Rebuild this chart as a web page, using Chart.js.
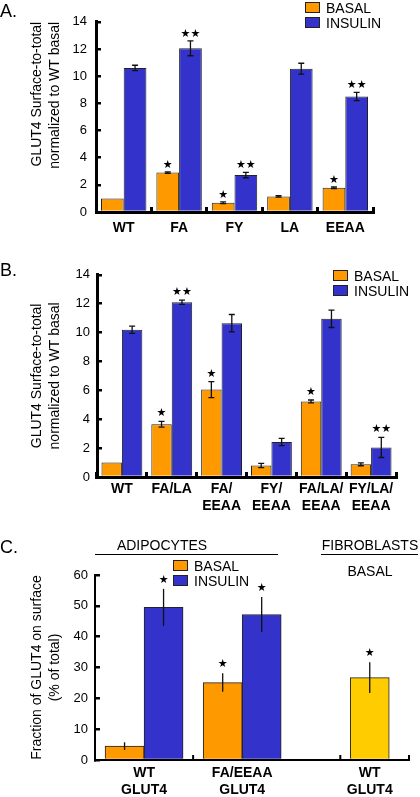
<!DOCTYPE html>
<html><head><meta charset="utf-8">
<script src="https://cdn.jsdelivr.net/npm/chart.js@4.4.0/dist/chart.umd.min.js"></script>
<style>
html,body{margin:0;padding:0;background:#fff;width:420px;height:797px;overflow:hidden;font-family:"Liberation Sans",Arial,sans-serif;color:#000;}
canvas{position:absolute;left:0;}
.txt{position:absolute;white-space:nowrap;z-index:2;}
.plab{font-size:18px;line-height:18px;left:0;}
.hdr{font-size:14px;line-height:16px;text-align:center;}
.rule{position:absolute;height:0;border-top:1px solid #000;z-index:2;}
.legend{position:absolute;z-index:2;font-size:14px;}
.legend .item{display:flex;align-items:center;height:15px;}
.legend .box{display:inline-block;width:13px;height:9px;border:1px solid #222;margin-right:6px;}
</style></head>
<body>
<canvas id="cA" width="420" height="250" style="top:0"></canvas>
<canvas id="cB" width="420" height="275" style="top:255px"></canvas>
<canvas id="cC" width="420" height="267" style="top:530px"></canvas>

<div class="txt plab" style="top:2px">A.</div>
<div class="txt plab" style="top:261px">B.</div>
<div class="txt plab" style="top:538px">C.</div>

<div class="txt hdr" style="left:62px;width:200px;top:537px">ADIPOCYTES</div>
<div class="rule" style="left:95px;width:183px;top:554px"></div>
<div class="txt hdr" style="left:320px;width:100px;top:537px">FIBROBLASTS</div>
<div class="rule" style="left:321px;width:97px;top:554px"></div>
<div class="txt hdr" style="left:320px;width:100px;top:563px">BASAL</div>

<div class="legend" id="legA" style="left:305px;top:0px"></div>
<div class="legend" id="legB" style="left:333px;top:268px"></div>
<div class="legend" id="legC" style="left:173px;top:558px"></div>

<script>
// ---------------- DATA ----------------
const seriesNames = ['BASAL', 'INSULIN'];

// Panel A
const aCategories = ['WT', 'FA', 'FY', 'LA', 'EEAA'];
const aBasal      = [1.0, 2.9, 0.68, 1.15, 1.78];
const aBasalErr   = [0, 0.06, 0.06, 0.06, 0.06];
const aBasalSig   = ['', '*', '*', '', '*'];
const aInsulin    = [10.6, 12.05, 2.72, 10.55, 8.5];
const aInsulinErr = [0.2, 0.55, 0.2, 0.4, 0.3];
const aInsulinSig = ['', '**', '**', '', '**'];

// Panel B
const bCategories = ['WT', 'FA/LA', ['FA/', 'EEAA'], ['FY/', 'EEAA'], ['FA/LA/', 'EEAA'], ['FY/LA/', 'EEAA']];
const bBasal      = [1.0, 3.65, 6.05, 0.8, 5.23, 0.88];
const bBasalErr   = [0, 0.2, 0.55, 0.15, 0.1, 0.1];
const bBasalSig   = ['', '*', '*', '', '*', ''];
const bInsulin    = [10.2, 12.1, 10.65, 2.42, 10.95, 2.05];
const bInsulinErr = [0.25, 0.15, 0.6, 0.25, 0.6, 0.7];
const bInsulinSig = ['', '**', '', '', '', '**'];

// Panel C
const cCategories = [['WT', 'GLUT4'], ['FA/EEAA', 'GLUT4'], ['WT', 'GLUT4']];
const cBasal      = [4.5, 25.1, 26.7];
const cBasalErr   = [1.25, 3.0, 5.0];
const cBasalSig   = ['', '*', '*'];
const cInsulin    = [49.5, 47.2, null];
const cInsulinErr = [6.0, 5.7, null];
const cInsulinSig = ['*', '*', ''];

// ---------------- STYLE ----------------
const FONT = '"Liberation Sans", Arial, sans-serif';
const COL = { basal: '#FF9900', insulin: '#3333CC', fibro: '#FFCC00', edge: '#222222' };

// legends (HTML)
function buildLegend(id) {
  const el = document.getElementById(id);
  [COL.basal, COL.insulin].forEach((c, i) => {
    const it = document.createElement('div');
    it.className = 'item';
    it.innerHTML = '<span class="box" style="background:' + c + '"></span>' + seriesNames[i];
    el.appendChild(it);
  });
}
['legA', 'legB', 'legC'].forEach(buildLegend);

// plugin: error bars + significance stars
const errorBars = {
  id: 'errorBars',
  afterDatasetsDraw(chart, args, opts) {
    const ctx = chart.ctx;
    const y = chart.scales.y;
    const cap = opts.cap || 0;
    ctx.save();
    ctx.strokeStyle = '#111';
    ctx.fillStyle = '#000';
    ctx.lineWidth = 1.3;
    ctx.font = '11px "DejaVu Sans"';
    ctx.textAlign = 'center';
    ctx.textBaseline = 'middle';
    chart.data.datasets.forEach((ds, di) => {
      const meta = chart.getDatasetMeta(di);
      meta.data.forEach((bar, i) => {
        const p = meta.controller.getParsed(i);
        if (!p || p.y === null || p.y === undefined || isNaN(p.y)) return;
        const e = (ds.errors && ds.errors[i]) || 0;
        const x = bar.x;
        const top = y.getPixelForValue(p.y + e);
        if (e) {
          const bot = y.getPixelForValue(p.y - e);
          ctx.beginPath();
          ctx.moveTo(x, top); ctx.lineTo(x, bot);
          if (cap) {
            ctx.moveTo(x - cap, top); ctx.lineTo(x + cap, top);
            ctx.moveTo(x - cap, bot); ctx.lineTo(x + cap, bot);
          }
          ctx.stroke();
        }
        const s = ds.marks && ds.marks[i];
        if (s) ctx.fillText('\u2605'.repeat(s.length), x, top - (opts.gap || 7));
      });
    });
    ctx.restore();
  }
};

// plugin: inward tick marks on x axis at given values (panel C)
const innerTicks = {
  id: 'innerTicks',
  afterDraw(chart, args, opts) {
    if (!opts.values) return;
    const ctx = chart.ctx, xs = chart.scales.x, b = chart.chartArea.bottom;
    ctx.save();
    ctx.strokeStyle = '#000';
    ctx.lineWidth = 2;
    opts.values.forEach(v => {
      const px = xs.getPixelForValue(v);
      ctx.beginPath(); ctx.moveTo(px, b); ctx.lineTo(px, b - 5); ctx.stroke();
    });
    ctx.restore();
  }
};

function yAxis(max, step, width, pad, title, bw, align) {
  return {
    type: 'linear', min: 0, max: max, z: 1,
    ticks: { stepSize: step, color: '#000', font: { family: FONT, size: 13 }, padding: pad },
    grid: { drawOnChartArea: false, drawTicks: true, tickLength: -5, lineWidth: 2.5, color: '#000' },
    border: { display: true, color: '#000', width: bw },
    title: { display: true, text: title, color: '#000', align: align || 'center', font: { family: FONT, size: 14, lineHeight: 1.3 }, padding: { top: 28, bottom: 0 } },
    afterFit: s => { s.width = width; }
  };
}
function xCat(height, pad) {
  return {
    type: 'category', offset: true, z: 1,
    grid: { offset: true, drawOnChartArea: false, drawTicks: true, tickLength: -5, lineWidth: 3, color: '#000' },
    border: { display: true, color: '#000', width: 3 },
    ticks: { color: '#000', font: { family: FONT, size: 14, weight: 'bold', lineHeight: 1.2 }, padding: pad, maxRotation: 0, autoSkip: false },
    afterFit: s => { s.height = height; }
  };
}
function ds(label, data, err, sig, color) {
  return { label, data, errors: err, marks: sig, backgroundColor: color, borderColor: COL.edge, borderWidth: 1 };
}
const common = {
  responsive: false, animation: false, devicePixelRatio: 1,
  datasets: { bar: { categoryPercentage: 0.82, barPercentage: 1 } }
};

// Panel A
new Chart(document.getElementById('cA'), {
  type: 'bar',
  data: { labels: aCategories, datasets: [
    ds(seriesNames[0], aBasal, aBasalErr, aBasalSig, COL.basal),
    ds(seriesNames[1], aInsulin, aInsulinErr, aInsulinSig, COL.insulin)
  ]},
  options: Object.assign({}, common, {
    layout: { padding: { left: 0, right: 47, top: 7, bottom: 0 } },
    plugins: { legend: { display: false }, tooltip: { enabled: false }, errorBars: { cap: 3, gap: 7 } },
    scales: {
      x: xCat(38, 13),
      y: yAxis(14, 2, 96, 14, ['GLUT4 Surface-to-total', 'normalized to WT basal'], 3, 'end')
    }
  }),
  plugins: [errorBars]
});

// Panel B
new Chart(document.getElementById('cB'), {
  type: 'bar',
  data: { labels: bCategories, datasets: [
    ds(seriesNames[0], bBasal, bBasalErr, bBasalSig, COL.basal),
    ds(seriesNames[1], bInsulin, bInsulinErr, bInsulinSig, COL.insulin)
  ]},
  options: Object.assign({}, common, {
    layout: { padding: { left: 0, right: 24, top: 11, bottom: 0 } },
    plugins: { legend: { display: false }, tooltip: { enabled: false }, errorBars: { cap: 3, gap: 8 } },
    scales: {
      x: xCat(53, 9),
      y: yAxis(14, 2, 97, 12, ['GLUT4 Surface-to-total', 'normalized to WT basal'], 3)
    }
  }),
  plugins: [errorBars]
});

// Panel C (uneven group spacing -> linear index axis)
const cPositions = [0.5, 1.5, 2.8];
const cBasalColors = [COL.basal, COL.basal, COL.fibro];
new Chart(document.getElementById('cC'), {
  type: 'bar',
  data: { datasets: [
    Object.assign(ds(seriesNames[0], cBasal.map((v, i) => ({ x: cPositions[i], y: v })), cBasalErr, cBasalSig, cBasalColors), { barThickness: 39, skipNull: true }),
    Object.assign(ds(seriesNames[1], cInsulin.map((v, i) => ({ x: cPositions[i], y: v })), cInsulinErr, cInsulinSig, COL.insulin), { barThickness: 39, skipNull: true })
  ]},
  options: Object.assign({}, common, {
    layout: { padding: { left: 0, right: 11, top: 45, bottom: 0 } },
    plugins: { legend: { display: false }, tooltip: { enabled: false }, errorBars: { cap: 0, gap: 9 }, innerTicks: { values: [1.0, 2.5, 3.2] } },
    scales: {
      x: {
        type: 'linear', min: 0, max: 3.2, offset: false, z: 1,
        grid: { display: false, drawTicks: false, offset: false },
        border: { display: true, color: '#000', width: 2 },
        afterBuildTicks: s => { s.ticks = cPositions.map(v => ({ value: v })); },
        ticks: { autoSkip: false, maxRotation: 0, color: '#000', padding: 5,
          font: { family: FONT, size: 14, weight: 'bold', lineHeight: 1.2 },
          callback: (v, i) => cCategories[i] },
        afterFit: s => { s.height = 37; }
      },
      y: yAxis(60, 10, 95, 12, ['Fraction of GLUT4 on surface', '(% of total)'], 2)
    }
  }),
  plugins: [errorBars, innerTicks]
});
</script>
</body></html>
